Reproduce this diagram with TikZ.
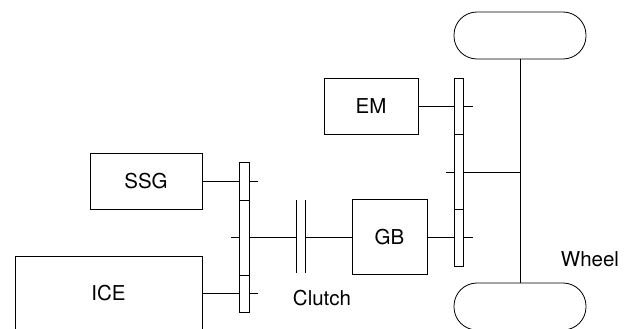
\documentclass[tikz,border=0pt]{standalone}
\usepackage{fontspec}
\setmainfont{TeX Gyre Heros}
\begin{document}
\begin{tikzpicture}[x=1pt,y=-1pt,line width=0.8pt,font=\fontsize{20.5}{24}\selectfont,
  box/.style={draw,rectangle,inner sep=0pt,outer sep=0pt,anchor=north west},
  gear/.style={draw,rectangle,inner sep=0pt,outer sep=0pt,minimum width=9.5},
  wheel/.style={draw,rectangle,rounded corners=23,inner sep=0pt,outer sep=0pt,minimum width=132,minimum height=47}]
\useasboundingbox (0,0) rectangle (633,329);
\clip (0,0) rectangle (633,329);

% engine side
\node[box,minimum width=112,minimum height=56] (ssg) at (90,153) {SSG};
\node[box,minimum width=187,minimum height=74] (ice) at (15,256) {ICE};
\node[gear,minimum height=150] (g1) at (244.5,237) {};
\draw (g1.west |- 0,200) -- (g1.east |- 0,200);
\draw (g1.west |- 0,275) -- (g1.east |- 0,275);
\draw (ssg.east) -- (g1.west |- ssg.east);
\draw (ice.east |- 0,293) -- (g1.west |- 0,293);
\draw (g1.east |- ssg.east) -- ++(9,0);
\draw (g1.east |- 0,293) -- ++(9,0);
\draw (g1.west) -- ++(-9,0);

% clutch
\coordinate (c1) at (296,237);
\coordinate (c2) at (305,237);
\draw (g1.east) -- (c1);
\draw (c1 |- 0,200) -- (c1 |- 0,273);
\draw (c2 |- 0,200) -- (c2 |- 0,273);
\node (clutch) at (322,298) {Clutch};

% motor and gearbox
\node[box,minimum width=94,minimum height=56] (em) at (324,78) {EM};
\node[box,minimum width=75,minimum height=75] (gb) at (352,199.5) {GB};
\draw (c2) -- (gb.west);
\node[gear,minimum height=188] (g2) at (459,172) {};
\draw (g2.west |- 0,134) -- (g2.east |- 0,134);
\draw (g2.west |- 0,209) -- (g2.east |- 0,209);
\draw (em.east) -- (g2.west |- em.east);
\draw (gb.east) -- (g2.west |- gb.east);
\draw (g2.east |- em.east) -- ++(9,0);
\draw (g2.east |- gb.east) -- ++(9,0);
\draw (g2.west) -- ++(-8,0);

% wheels
\node[wheel] (wt) at (520,35.5) {};
\node[wheel] (wb) at (520,306.5) {};
\draw (wt.south) -- (wb.north);
\coordinate (ax) at (wt.south |- g2.east);
\draw (g2.east) -- (ax);
\node (wlabel) at (590,259) {Wheel};
\end{tikzpicture}
\end{document}
